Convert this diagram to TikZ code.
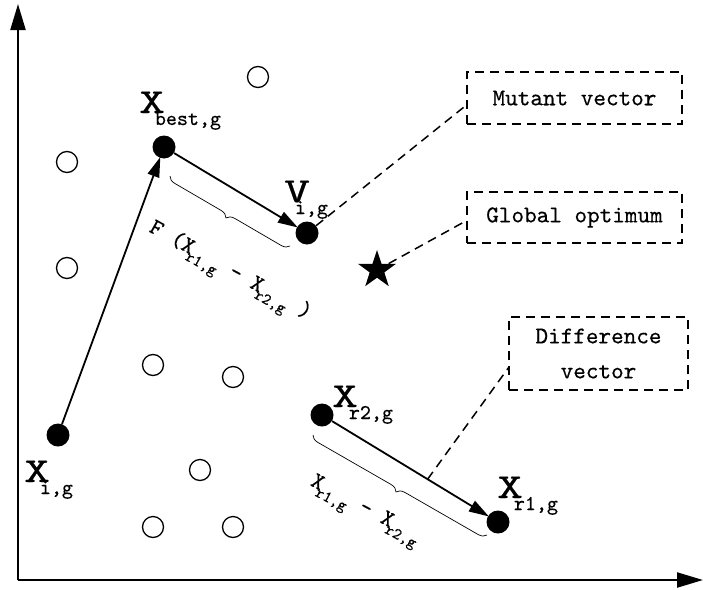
\documentclass[tikz,border=0pt]{standalone}
\usepackage{fontspec}
\usepackage{graphicx}
\usetikzlibrary{arrows.meta,decorations.pathreplacing,shapes.geometric,calc}

% typewriter face, a little emboldened, for every label
\newfontfamily\lblfont{lmmono10-regular}[Extension=.otf,FakeBold=0.4]
% big point label: wide main letter with a lowered subscript
\newcommand\ptlab[3]{\scalebox{1.4}[1]{\fontsize{35}{35}\selectfont #1}\kern#3\raisebox{-12pt}{\fontsize{21}{21}\selectfont #2}}
% small label inside the brace annotations
\newcommand\brlab[2]{{\fontsize{23}{23}\selectfont #1}\kern-3pt\raisebox{-7pt}{\fontsize{16}{16}\selectfont #2}}

\begin{document}
\begin{tikzpicture}[x=1pt,y=-1pt,
  dot/.style={circle,fill=black,minimum size=23pt,inner sep=0pt},
  hollow/.style={circle,draw=black,line width=1.3pt,minimum size=21pt,inner sep=0pt},
  axis/.style={line width=2.2pt,-{Triangle[length=26pt,width=15pt]}},
  vecarrow/.style={line width=1.8pt,-{Triangle[length=20pt,width=12pt]},shorten >=-1pt},
  leader/.style={line width=1.5pt,dash pattern=on 9pt off 6pt},
  infobox/.style={draw,line width=1.5pt,dash pattern=on 9pt off 6pt,inner sep=0pt,
    align=center,font=\lblfont\fontsize{24}{35}\selectfont},
  curly/.style={decorate,decoration={brace,mirror,amplitude=8pt},line width=0.7pt},
  ptname/.style={anchor=base west,inner sep=0pt,font=\lblfont},
  brname/.style={inner sep=0pt,font=\lblfont\fontsize{23}{23}\selectfont}]
\useasboundingbox (0,0) rectangle (703,589);

% axes
\coordinate (origin) at (18,580);
\coordinate (ytip) at (18,4);
\coordinate (xtip) at (703,580);
\draw[axis] (origin) -- (ytip);
\draw[axis] (origin) -- (xtip);

% population members
\foreach \nm/\px/\py in {h1/258/77,h2/67/162,h3/67/268,h4/153/365,h5/233/377,h6/200/470,h7/153/527,h8/233/527}
  \node[hollow] (\nm) at (\px,\py) {};

% selected vectors
\node[dot] (xi) at (58,435) {};
\node[dot] (xbest) at (164,147) {};
\node[dot] (vig) at (307,233) {};
\node[dot] (xr2) at (322,415) {};
\node[dot] (xr1) at (498,522) {};
\node[star,star points=5,star point ratio=2.6,fill=black,minimum size=40pt,inner sep=0pt] (opt) at (377,270) {};

% vector arrows
\draw[vecarrow] (xi) -- (xbest);
\draw[vecarrow] (xbest) -- (vig);
\draw[vecarrow] (xr2) -- (xr1);

% point labels
\node[ptname] (lxbest) at (139,113) {\ptlab{X}{best,g}{-10pt}};
\node[ptname] (lvig) at (284,202) {\ptlab{V}{i,g}{-15pt}};
\node[ptname] (lxi) at (24,482) {\ptlab{X}{i,g}{-10pt}};
\node[ptname] (lxr2) at (332,407) {\ptlab{X}{r2,g}{-9pt}};
\node[ptname] (lxr1) at (497,498) {\ptlab{X}{r1,g}{-9pt}};

% braces with their scaled differences
\coordinate (b1s) at (170,176);
\coordinate (b1e) at (290,246);
\draw[curly] (b1s) -- (b1e);
\node[brname,rotate=-29] (fdiff) at (229,273) {F (\brlab{X}{r1,g} - \brlab{X}{r2,g} )};

\coordinate (b2s) at (313,435);
\coordinate (b2e) at (487,535);
\draw[curly] (b2s) -- (b2e);
\node[brname,rotate=-28] (diff) at (364,512) {\brlab{X}{r1,g} - \brlab{X}{r2,g}};

% annotation boxes
\node[infobox,minimum width=215pt,minimum height=52pt] (mut) at (574.5,98) {Mutant vector};
\node[infobox,minimum width=215pt,minimum height=51pt] (glob) at (574.5,217.5) {Global optimum};
\node[infobox,minimum width=179pt,minimum height=73pt] (dbox) at (598.5,353.5) {Difference\\vector};

% dashed leaders
\coordinate (mutin) at (464,107);
\coordinate (globin) at (464,222);
\coordinate (dboxin) at (509,367);
\coordinate (dmid) at ($(xr2)!0.6!(xr1)$);
\draw[leader] (vig) -- (mutin);
\draw[leader] (opt) -- (globin);
\draw[leader] (dmid) -- (dboxin);
\end{tikzpicture}
\end{document}
